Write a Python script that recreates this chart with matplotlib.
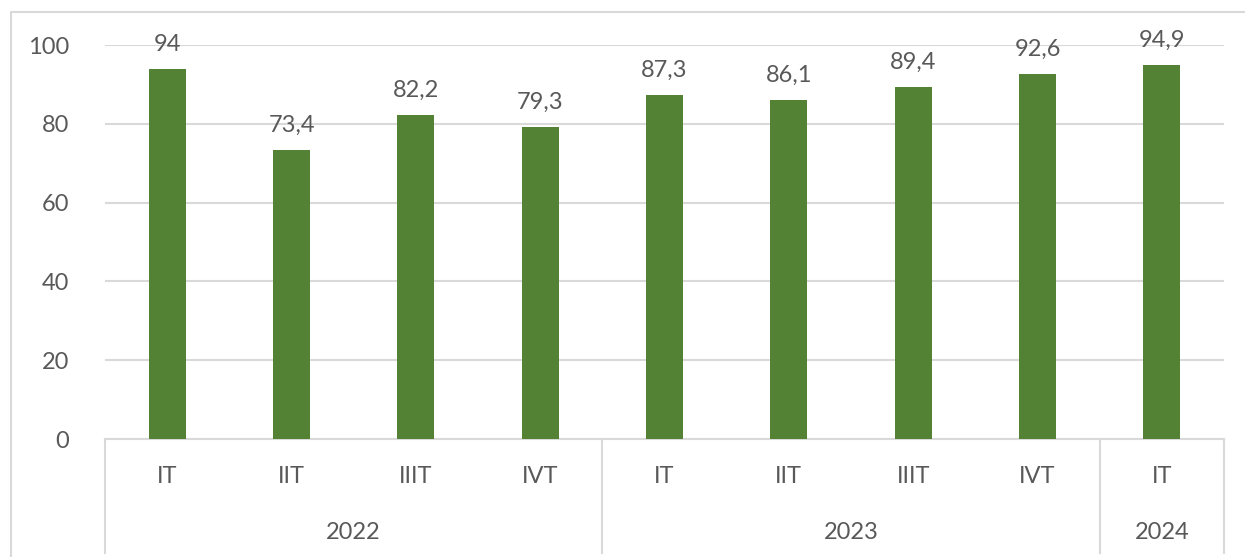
import matplotlib
matplotlib.use("Agg")
import matplotlib.pyplot as plt
from matplotlib.lines import Line2D

# Data
quarters = ["IT", "IIT", "IIIT", "IVT", "IT", "IIT", "IIIT", "IVT", "IT"]
values = [94, 73.4, 82.2, 79.3, 87.3, 86.1, 89.4, 92.6, 94.9]
years = ["2022", "2023", "2024"]
year_spans = [(0, 3), (4, 7), (8, 8)]

plt.rcParams['font.family'] = ['Lato', 'DejaVu Sans']
txt = "#595959"
grid_c = "#d9d9d9"
bar_c = "#548235"
fs = 17

fig = plt.figure(figsize=(12.45, 5.57), dpi=100)
ax = fig.add_axes([105 / 1245, 1 - 439 / 557, (1224 - 105) / 1245, (439 - 45) / 557])

x = list(range(len(values)))
ax.bar(x, values, width=0.3, color=bar_c, zorder=3)

for xi, v in zip(x, values):
    s = f"{v:g}".replace(".", ",")
    ax.annotate(s, (xi, v), xytext=(0, 10), textcoords="offset points",
                ha="center", va="bottom", fontsize=fs, color=txt, clip_on=False)

ax.set_xlim(-0.5, len(values) - 0.5)
ax.set_ylim(0, 100)
ax.set_yticks(range(0, 101, 20))
ax.tick_params(axis="y", length=0, pad=26, labelsize=fs, labelcolor=txt)
ax.set_xticks([])
ax.yaxis.grid(True, color=grid_c, lw=1.5, zorder=0)
for sp in ["top", "right", "left"]:
    ax.spines[sp].set_visible(False)
ax.spines["bottom"].set_color(grid_c)
ax.spines["bottom"].set_linewidth(1.5)

tr = ax.get_xaxis_transform()
for xi, q in zip(x, quarters):
    ax.text(xi, -0.096, q, transform=tr, ha="center", va="center",
            fontsize=fs, color=txt)
for (a, b), yr in zip(year_spans, years):
    ax.text((a + b) / 2, -0.238, yr, transform=tr, ha="center", va="center",
            fontsize=fs, color=txt)

# group separators
seps = [-0.5] + [b + 0.5 for a, b in year_spans]
for sx in seps:
    ax.add_line(Line2D([sx, sx], [0, -0.29], transform=tr, color=grid_c,
                       lw=1.5, clip_on=False))

# outer chart frame (left and top edges)
fy = 1 - 12 / 557
fx = 11 / 1245
fig.add_artist(Line2D([fx, fx, 1], [0, fy, fy], transform=fig.transFigure,
                      color=grid_c, lw=1.5))

fig.savefig("out.png", dpi=100)
